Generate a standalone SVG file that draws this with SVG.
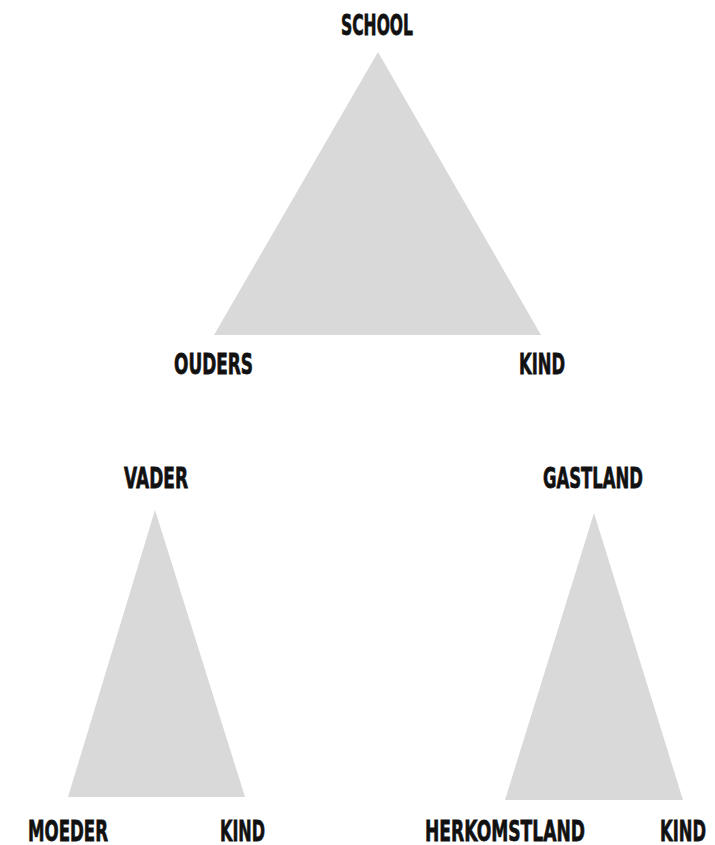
<svg xmlns="http://www.w3.org/2000/svg" width="715" height="845" viewBox="0 0 715 845">
<style>
.tri{fill:#d9d9d9;stroke:none}
.lbl{font-family:"DejaVu Sans",sans-serif;font-weight:bold;font-size:29px;fill:#111;stroke:#111;stroke-width:0.8}
</style>
<rect width="715" height="845" fill="#ffffff"/>
<g id="connectors">
<polygon id="tri-school" class="tri" points="378,52 214,335 541,335"/>
<polygon id="tri-vader" class="tri" points="155,510 68,797 245,797"/>
<polygon id="tri-gastland" class="tri" points="594,513 505,800 683,800"/>
</g>
<g id="node-school"><text class="lbl" x="341" y="35" textLength="72" lengthAdjust="spacingAndGlyphs">SCHOOL</text></g>
<g id="node-ouders"><text class="lbl" x="174" y="374" textLength="79" lengthAdjust="spacingAndGlyphs">OUDERS</text></g>
<g id="node-kind1"><text class="lbl" x="519" y="374" textLength="46" lengthAdjust="spacingAndGlyphs">KIND</text></g>
<g id="node-vader"><text class="lbl" x="124" y="488" textLength="64" lengthAdjust="spacingAndGlyphs">VADER</text></g>
<g id="node-gastland"><text class="lbl" x="543" y="488" textLength="100" lengthAdjust="spacingAndGlyphs">GASTLAND</text></g>
<g id="node-moeder"><text class="lbl" x="28" y="841" textLength="80" lengthAdjust="spacingAndGlyphs">MOEDER</text></g>
<g id="node-kind2"><text class="lbl" x="220" y="841" textLength="45" lengthAdjust="spacingAndGlyphs">KIND</text></g>
<g id="node-herkomstland"><text class="lbl" x="425" y="841" textLength="160" lengthAdjust="spacingAndGlyphs">HERKOMSTLAND</text></g>
<g id="node-kind3"><text class="lbl" x="660" y="841" textLength="46" lengthAdjust="spacingAndGlyphs">KIND</text></g>
</svg>
